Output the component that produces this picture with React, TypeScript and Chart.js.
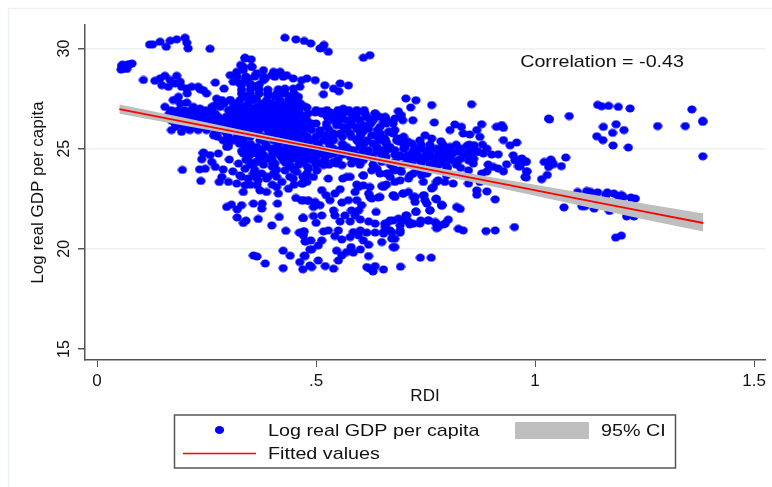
import React, { useEffect, useRef } from "react";
import { Chart, registerables } from "chart.js";

Chart.register(...registerables);

type P = [number, number];
type Row = [number, number[]];

const xTickValues = [0, 0.5, 1, 1.5];
const xTickLabels = ["0", ".5", "1", "1.5"];
const yTickValues = [15, 20, 25, 30];
const yTickLabels = ["15", "20", "25", "30"];

const topLeftPoints: P[] = [[.12,30.2],[.127,30.21],[.144,30.34],[.158,30.09],[.167,30.39],[.182,30.46],[.201,30.54],[.205,30.29],[.208,30.01],[.258,29.99],
[.055,28.95],[.056,29.1],[.06,29.0],[.065,29.1],[.07,29.2],[.075,29.22],[.08,29.25],[.058,29.2],[.068,28.98],[.106,28.43]];

const upperLeftPoints: P[] = [[.132,28.39],[.144,28.51],[.155,28.64],[.167,28.43],[.182,28.64],[.19,28.34],[.148,28.17],[.163,28.09],[.178,28.26],[.193,28.09],[.205,28.0],[.216,28.09],[.231,28.09],[.243,27.92],[.27,28.3],[.29,28.0],[.25,27.76],[.235,27.97],[.206,27.76],[.186,27.59],[.174,27.43],[.155,27.09],[.19,27.26],[.205,27.3],[.22,27.09],[.235,27.0],[.262,27.09],[.285,27.43],[.273,27.5],[.27,27.17],[.304,27.43],[.319,27.26],[.334,27.59],[.17,25.93],[.193,25.84],[.212,25.93],[.231,25.93],[.25,25.93],[.266,25.67]];

const upperLeftRows: Row[] = [[26.92,[.17,.186,.2,.216,.231,.247,.262]],[26.75,[.165,.18,.195,.21,.225,.24,.255,.27]],[26.59,[.17,.186,.2,.216,.231,.247,.262,.277]],[26.4,[.17,.185,.2,.215,.23,.245,.26,.275]],[26.26,[.178,.193,.209,.224,.239,.254,.27,.285]],[26.1,[.18,.2,.215,.23,.245,.26,.28]]];

const upperTopPoints: P[] = [[.338,29.51],[.328,29.18],[.353,29.09],[.304,28.67],[.319,28.84],[.334,28.92],[.311,28.34],[.326,28.26],[.345,28.51],[.361,28.09],[.364,28.76],[.38,28.92],[.38,28.42],[.399,28.67],[.414,28.76],[.433,28.67],[.448,28.51],[.467,28.42],[.479,28.51],[.498,28.42],[.52,28.17],[.517,27.72],[.54,28.0],[.552,27.87],[.555,28.26],[.574,28.16],
[.429,30.54],[.454,30.46],[.473,30.38],[.488,30.26],[.513,30.04],[.518,30.18],[.528,29.84],[.509,30.01],[.608,29.54],[.623,29.67],
[.338,29.54],[.352,29.46],[.353,29.09],[.334,29.09],[.403,28.84],[.418,28.84],[.406,28.59],[.425,28.59],[.384,28.51],[.361,28.09],[.349,28.26],[.338,28.43],[.414,27.97],[.429,28.0],[.448,28.0],[.463,28.09],[.46,27.59],[.441,27.59],[.422,27.76],[.406,27.59],[.391,27.67],[.364,27.51],[.338,27.59],[.349,27.43],[.452,27.21],[.479,27.06],[.433,27.17],[.414,27.26],[.395,27.26],[.38,27.09],[.357,27.01],[.338,27.09]];

const upperTopRows: Row[] = [
[28.6,[.32,.34,.36,.38]],
[28.2,[.33,.35,.37]],
[27.95,[.33,.35,.37,.39]],
[27.75,[.33,.35,.37,.39,.41,.43,.45]]];

const middleBandPoints: P[] = [[.498,26.81],[.513,26.87],[.532,26.81],[.547,26.76],[.562,27.0],[.578,26.81],[.593,26.93],[.612,26.76],[.635,26.76],[.658,26.59],[.559,26.51],[.593,26.51],[.62,26.51],[.654,26.34],[.524,26.26],[.547,26.17],[.578,26.17],[.608,26.17],[.593,26.0],[.62,26.0],[.49,26.26],[.486,26.0],[.509,25.92],[.52,25.67],[.54,25.67],[.555,25.76],[.581,25.59],[.6,25.84],[.627,25.67],[.665,25.84],[.654,25.5],[.597,25.34]];

const centralRows: Row[] = [
[27.42,[.304,.326,.357,.387,.418,.437,.456]],
[27.25,[.29,.32,.345,.375,.4,.42,.445,.465]],
[27.09,[.281,.311,.334,.364,.387,.41,.433,.452,.475]],
[26.93,[.3,.32,.34,.36,.38,.4,.42,.44,.46,.5,.525,.55,.575,.61]],
[26.76,[.311,.33,.349,.368,.387,.406,.425,.444,.463,.482,.513,.536,.562,.593,.635]],
[26.6,[.295,.315,.335,.355,.375,.395,.415,.435,.455,.475,.525,.555,.585,.615,.645]],
[26.43,[.288,.307,.326,.345,.364,.384,.403,.422,.441,.46,.479,.54,.57,.6,.631,.661]],
[26.26,[.295,.315,.335,.355,.375,.39,.41,.43,.45,.465,.5,.55,.58,.625,.66]],
[26.09,[.304,.323,.342,.361,.38,.399,.418,.437,.456,.475,.524,.562,.593,.616,.646]],
[25.93,[.285,.31,.33,.35,.37,.39,.405,.425,.445,.465,.49,.53,.57,.61,.64,.68]],
[25.76,[.269,.296,.334,.364,.395,.414,.433,.452,.471,.509,.54,.578,.604,.646,.676]],
[25.6,[.275,.3,.32,.35,.38,.405,.425,.44,.46,.48,.5,.53,.56,.6,.64,.7]],
[25.42,[.288,.311,.334,.372,.403,.425,.448,.471,.49,.517,.54,.593,.616,.646,.684]],
[25.25,[.3,.325,.35,.385,.415,.44,.46,.48,.505,.53,.56,.61,.63,.66,.7,.72]],
[25.09,[.296,.338,.364,.387,.41,.433,.456,.479,.5,.532,.57,.6,.639,.669]],
[25.0,[.37,.4,.44,.48,.51,.54,.56]],
[24.93,[.35,.375,.4,.42,.445,.465,.49,.515,.555,.58,.62,.65,.68]],
[24.76,[.243,.334,.364,.41,.433,.452,.471,.486,.509,.54,.585]],
[24.7,[.35,.38,.4,.43,.46,.5,.53,.56,.6]],
[24.6,[.345,.38,.42,.44,.46,.48,.5,.52,.6,.625,.66,.69,.735,.76,.785]],
[24.45,[.34,.37,.4,.43,.46,.49,.52,.55,.59]],
[24.3,[.36,.4,.43,.47,.51,.54]],
[24.2,[.35,.38,.44,.46,.5,.53,.6,.63,.67,.7,.72,.76,.78,.82]],
[24.1,[.4,.44,.48]],
[23.95,[.36,.41,.45]],
[23.6,[.33,.36,.39,.41,.44,.47]],
[23.2,[.35,.4,.45]]];

const rightDenseRows: Row[] = [
[25.35,[.66,.69,.71]],
[25.2,[.74,.76,.79,.82,.85,.88]],
[25.0,[.64,.67,.7,.73,.76,.79,.83,.86,.89]],
[24.85,[.73,.76,.78,.81,.83,.85,.87]],
[24.7,[.62,.65,.68,.71,.75,.78,.81,.84]],
[24.5,[.71,.73,.75,.78,.8,.83,.86]],
[24.35,[.68,.71,.74,.77,.79,.82]],
[24.05,[.74,.77,.8,.83]]];

const rightUpperPoints: P[] = [[.705,27.51],[.728,27.42],[.716,27.06],[.764,27.18],[.855,27.22],[.688,26.87],[.695,26.67],[.721,26.42],[.68,26.51],[.698,26.42],[.657,26.56],[.661,26.34],[.676,26.26],[.669,25.84],[.77,26.31],[.817,26.21],[.806,25.93],[.832,26.09],[.836,25.76],[.878,26.22],[.867,25.93],[.851,25.71],[.874,25.59],[.912,26.09],[.924,26.18],[.928,26.04],[.928,25.43],[.958,25.31],[.943,25.17],[.749,25.67],[.764,25.51],[.737,25.42],[.785,25.37],[.688,25.51],[.657,25.51],[.806,25.09],[.844,25.14],[.861,25.18],[.87,24.84],[.882,24.76],[.901,24.71],[.916,24.72],[.95,24.67],[.966,24.47],[.979,24.34],[.954,24.42],[.935,24.22],[.962,24.12],[.981,23.87],[.977,23.59],[.703,25.09],[.722,24.92],[.741,25.0],[.756,24.92],[.775,25.0],[.794,24.92],[.817,24.84],[.836,24.76],[.855,24.76],[.703,24.59],[.722,24.67],[.749,24.59],[.772,24.59],[.794,24.67],[.806,24.42],[.825,24.42],[.848,24.42],[.859,24.26],[.893,24.21],[.905,24.09],[.916,24.01],[.928,23.87],[.89,23.87],[.878,23.76],[.848,23.92],[.779,24.26],[.741,24.38],[.798,24.09]];

const rightLowerPoints: P[] = [[.661,23.76],[.68,23.92],[.695,23.84],[.722,23.76],[.692,23.42],[.711,23.51],[.741,23.67],[.745,23.34],[.68,23.34],[.657,23.17],[.676,22.67],[.699,22.76],[.722,22.59],[.745,22.67],[.775,23.34],[.794,23.34],[.813,23.26],[.764,23.01],[.775,22.47],[.909,22.47],[.867,22.92],[.867,22.7],[.89,22.87],[.848,23.26],[.874,23.34],[.646,22.59],[.749,22.42],[.787,22.2],[.821,22.09],[.829,21.99],[.787,22.16],[.76,21.93],[.728,21.84],[.739,21.42],[.756,21.42],[.772,21.34],[.779,21.09],[.791,21.22],[.802,21.46],[.825,21.0],[.836,20.92],[.888,20.89],[.909,20.92],[.953,21.09],[.707,21.67],[.714,21.22],[.699,21.42],[.676,21.42],[.657,21.26],[.669,20.92],[.692,20.92],[.68,20.5],[.676,20.09],[.654,20.76]];

const farRightPoints: P[] = [[1.143,27.19],[1.152,27.12],[1.168,27.14],[1.19,27.09],[1.217,27.01],[1.358,26.96],[1.383,26.34],[1.383,26.39],[1.28,26.13],[1.343,26.13],[1.031,26.51],[1.033,26.46],[1.078,26.63],[1.156,26.09],[1.185,26.22],[1.177,25.79],[1.203,25.93],[1.141,25.62],[1.155,25.43],[1.178,25.16],[1.213,25.06],[1.383,24.62],[1.07,24.56],[1.036,24.46],[1.021,24.34],[1.042,24.23],[1.031,24.09],[1.06,24.13],[1.038,24.34],[1.028,23.69],[1.015,23.48],[.97,24.51],[.98,24.36],[.981,23.87],[.98,23.56],[.966,24.12],[1.097,22.84],[1.118,22.89],[1.127,22.84],[1.143,22.82],[1.165,22.82],[1.162,22.67],[1.18,22.76],[1.19,22.62],[1.197,22.69],[1.202,22.59],[1.219,22.56],[1.229,22.51],[1.066,22.07],[1.107,22.13],[1.114,22.13],[1.135,22.01],[1.17,21.89],[1.209,21.62],[1.226,21.62],[1.184,20.56],[1.197,20.66]];

const lowerLeftPoints: P[] = [[.195,23.94],[.237,23.39],[.243,24.81],[.239,24.475],[.258,24.68],[.277,24.76],[.302,24.46],[.234,23.97],[.247,24.0],[.262,24.34],[.27,24.09],[.288,23.97],[.31,23.87],[.279,23.34],[.3,23.34],[.285,23.59],[.323,24.26],[.326,23.67],[.319,23.26],[.338,23.18],[.334,22.84],[.365,23.18],[.372,22.92],[.387,22.84],[.414,22.76],[.437,23.0],[.41,23.09],[.47,23.26],[.454,22.54],[.467,22.42],[.482,22.42],[.296,22.09],[.307,22.21],[.33,22.18],[.32,21.97],[.357,22.26],[.377,22.26],[.376,22.01],[.412,22.26],[.32,21.57],[.334,21.29],[.34,21.41],[.368,21.49],[.416,21.59],[.399,21.17],[.431,20.9],[.47,21.54],[.462,20.81],[.473,20.87],[.476,20.37],[.425,19.91],[.357,19.67],[.365,19.62],[.384,19.27],[.441,19.66],[.473,19.66],[.425,19.04],[.47,18.98],[.486,19.97],[.486,19.17],[.3,25.12],[.33,24.88],[.345,25.0],[.368,24.76],[.345,24.43],[.365,24.34],[.387,24.51],[.406,24.26],[.425,24.43],[.448,24.51],[.475,24.43],[.338,24.0],[.357,23.76],[.376,23.76],[.403,23.76],[.429,23.92],[.456,23.84],[.479,23.76],[.345,23.51],[.368,23.42],[.387,23.51],[.422,23.34],[.448,23.51],[.479,23.34]];

const lowerMiddlePoints: P[] = [[.471,22.43],[.483,22.39],[.498,22.34],[.513,22.93],[.523,22.68],[.532,22.43],[.543,22.76],[.555,22.98],[.494,22.09],[.509,22.18],[.54,21.92],[.543,21.67],[.494,21.64],[.513,21.67],[.5,21.3],[.471,21.54],[.559,22.31],[.574,22.43],[.593,22.43],[.604,22.18],[.597,21.92],[.581,21.92],[.566,21.67],[.589,21.67],[.555,21.37],[.578,21.37],[.601,21.47],[.62,21.37],[.635,21.26],[.637,21.84],[.608,23.17],[.593,23.21],[.589,22.84],[.623,23.09],[.62,22.76],[.627,22.51],[.642,22.56],[.561,23.51],[.578,23.59],[.608,23.67],[.627,23.92],[.65,23.14],[.661,23.21],[.677,22.67],[.699,22.76],[.711,22.84],[.726,22.59],[.726,22.34],[.747,22.67],[.753,22.26],[.76,21.92],[.774,22.51],[.787,22.18],[.728,21.87],[.661,21.26],[.669,21.42],[.688,21.51],[.705,21.67],[.711,21.37],[.722,21.26],[.737,21.26],[.757,21.42],[.775,21.26],[.795,21.26],[.775,21.04],[.692,21.17],[.658,21.09],[.654,20.84],[.692,20.81],[.673,20.81],[.673,20.51],[.68,20.09],[.65,20.34],[.471,20.87],[.471,20.67],[.517,20.87],[.528,20.92],[.551,20.92],[.543,20.64],[.559,20.47],[.513,20.42],[.505,20.17],[.49,19.97],[.475,20.37],[.488,20.42],[.585,20.84],[.601,20.92],[.616,20.81],[.635,20.81],[.578,20.59],[.597,20.67],[.608,20.42],[.62,20.21],[.58,20.09],[.57,19.84],[.585,19.81],[.601,19.97],[.62,19.64],[.547,19.91],[.559,19.67],[.551,19.42],[.54,19.01],[.505,19.42],[.49,19.09],[.521,19.14],[.463,19.34],[.475,19.64],[.616,19.09],[.623,19.01],[.635,19.14],[.63,18.87],[.654,18.97],[.693,19.11],[.738,19.56],[.763,19.56]];

const centreLowerPoints: P[] = [[.479,24.51],[.498,24.34],[.517,24.18],[.483,24.01],[.502,23.92],[.528,23.51],[.475,23.51],[.494,23.59],[.467,23.26],[.54,24.34],[.559,24.18],[.581,24.26],[.608,24.43],[.631,24.51],[.65,24.34],[.677,24.01],[.665,23.76],[.692,23.92],[.715,23.67],[.73,23.92],[.753,23.76],[.779,23.42],[.768,23.09],[.798,23.67],[.646,23.76],[.471,24.84],[.494,24.76],[.517,24.76],[.54,24.84],[.562,24.76],[.585,24.92],[.608,24.92],[.639,24.84],[.661,24.92],[.692,24.67],[.715,24.43],[.741,24.34],[.547,24.26],[.578,24.59],[.57,23.59],[.608,23.67],[.639,24.0],[.669,23.59],[.654,23.09],[.623,22.59],[.597,23.09],[.68,22.59]];

const fitX = [.051, .2, .35, .5, .65, .8, .95, 1.1, 1.25, 1.384];
const fitY = [26.975, 26.34, 25.7, 25.06, 24.42, 23.78, 23.14, 22.5, 21.86, 21.29];
const ciUpper = [27.21, 26.54, 25.84, 25.17, 24.55, 23.96, 23.39, 22.82, 22.25, 21.76];
const ciLower = [26.74, 26.14, 25.56, 24.95, 24.29, 23.6, 22.89, 22.18, 21.47, 20.86];

const correlationText = "Correlation = -0.43";
const scatterLabel = "Log real GDP per capita";
const fitLabel = "Fitted values";
const ciLabel = "95% CI";
const FONT = '"Liberation Sans", Arial, sans-serif';
const AXIS = "#555555";
const GRID = "#eaf2f3";
const BLUE = "#0000ff";
const RED = "#ff0000";
const BAND = "#bebebe";

const rowsToPairs = (rows: Row[]): P[] =>
  rows.flatMap(([y, xs]) => xs.map((x) => [x, y] as P));

const allPoints: P[] = [
  ...topLeftPoints, ...upperLeftPoints, ...rowsToPairs(upperLeftRows), ...upperTopPoints, ...rowsToPairs(upperTopRows),
  ...middleBandPoints, ...rowsToPairs(centralRows), ...rowsToPairs(rightDenseRows), ...rightUpperPoints, ...rightLowerPoints,
  ...farRightPoints, ...lowerLeftPoints, ...lowerMiddlePoints, ...centreLowerPoints,
];

function makeMarker(): HTMLCanvasElement {
  const c = document.createElement("canvas");
  c.width = 10;
  c.height = 9;
  const g = c.getContext("2d")!;
  g.fillStyle = BLUE;
  g.beginPath();
  g.ellipse(5, 4.5, 4.6, 4, 0, 0, Math.PI * 2);
  g.fill();
  return c;
}

function wideText(ctx: CanvasRenderingContext2D, text: string, x: number, y: number) {
  ctx.save();
  ctx.translate(x, y);
  ctx.scale(1.16, 1);
  ctx.fillText(text, 0, 0);
  ctx.restore();
}

const decorations = {
  id: "decorations",
  beforeDraw(chart: any) {
    const { ctx } = chart;
    ctx.save();
    ctx.strokeStyle = GRID;
    ctx.lineWidth = 1.5;
    ctx.beginPath();
    ctx.moveTo(8.5, 487);
    ctx.lineTo(8.5, 8.5);
    ctx.lineTo(772, 8.5);
    ctx.stroke();
    ctx.restore();
  },
  afterDraw(chart: any) {
    const { ctx, scales } = chart;
    ctx.save();
    ctx.fillStyle = "#111111";
    ctx.font = `17px ${FONT}`;
    ctx.textBaseline = "middle";
    ctx.textAlign = "left";
    wideText(ctx, correlationText, scales.x.getPixelForValue(0.966), scales.y.getPixelForValue(29.3));

    ctx.strokeStyle = AXIS;
    ctx.lineWidth = 1.5;
    ctx.strokeRect(174.5, 415, 501, 53);

    ctx.fillStyle = BLUE;
    ctx.beginPath();
    ctx.ellipse(219.5, 430, 4.6, 4, 0, 0, Math.PI * 2);
    ctx.fill();
    ctx.strokeStyle = RED;
    ctx.lineWidth = 1.5;
    ctx.beginPath();
    ctx.moveTo(183, 453.5);
    ctx.lineTo(256, 453.5);
    ctx.stroke();
    ctx.fillStyle = BAND;
    ctx.fillRect(515, 422, 74, 17);

    ctx.fillStyle = "#111111";
    wideText(ctx, scatterLabel, 268, 431.5);
    wideText(ctx, fitLabel, 268, 454);
    wideText(ctx, ciLabel, 601, 431.5);
    ctx.restore();
  },
};

export default function App() {
  const ref = useRef<HTMLCanvasElement>(null);
  useEffect(() => {
    const chart = new Chart(ref.current!, {
      type: "scatter",
      data: {
        datasets: [
          {
            label: scatterLabel,
            data: allPoints.map(([x, y]) => ({ x, y })),
            backgroundColor: BLUE,
            borderWidth: 0,
            pointStyle: makeMarker(),
            pointRadius: 4,
            order: 3,
          },
          {
            label: "CI upper",
            data: fitX.map((x, i) => ({ x, y: ciUpper[i] })),
            showLine: true,
            pointRadius: 0,
            borderWidth: 0,
            borderColor: BAND,
            order: 2,
          },
          {
            label: ciLabel,
            data: fitX.map((x, i) => ({ x, y: ciLower[i] })),
            showLine: true,
            pointRadius: 0,
            borderWidth: 0,
            borderColor: BAND,
            backgroundColor: BAND,
            fill: "-1",
            order: 2,
          },
          {
            label: fitLabel,
            data: fitX.map((x, i) => ({ x, y: fitY[i] })),
            showLine: true,
            pointRadius: 0,
            borderColor: RED,
            borderWidth: 1.8,
            order: 1,
          },
        ],
      } as any,
      options: {
        animation: false,
        responsive: false,
        layout: { padding: { left: 0, right: 7, top: 25, bottom: 0 } },
        plugins: { legend: { display: false }, tooltip: { enabled: false } },
        scales: {
          x: {
            type: "linear",
            min: -0.0274,
            max: 1.525,
            afterBuildTicks: (s: any) => { s.ticks = xTickValues.map((value) => ({ value })); },
            afterFit: (s: any) => { s.height = 127; },
            border: { color: AXIS, width: 1.5 },
            grid: { drawOnChartArea: false, tickColor: AXIS, tickLength: 7 },
            ticks: {
              autoSkip: false,
              maxRotation: 0,
              padding: 4,
              color: "#111111",
              font: { family: FONT, size: 17 },
              callback: (v: any) => xTickLabels[xTickValues.indexOf(Number(v))],
            },
            title: {
              display: true,
              text: "RDI",
              color: "#111111",
              font: { family: FONT, size: 17 },
              padding: { top: 0, bottom: 80 },
            },
          },
          y: {
            type: "linear",
            min: 14.45,
            max: 31.175,
            afterBuildTicks: (s: any) => { s.ticks = yTickValues.map((value) => ({ value })); },
            afterFit: (s: any) => { s.width = 85; },
            border: { color: AXIS, width: 1.5 },
            grid: {
              color: (c: any) => (c.tick && c.tick.value === 15 ? "rgba(0,0,0,0)" : GRID),
              lineWidth: 1.5,
              tickColor: AXIS,
              tickLength: 7,
            },
            ticks: {
              autoSkip: false,
              minRotation: 90,
              maxRotation: 90,
              crossAlign: "center",
              padding: 5,
              color: "#111111",
              font: { family: FONT, size: 16 },
              callback: (v: any) => yTickLabels[yTickValues.indexOf(Number(v))],
            },
            title: {
              display: true,
              text: scatterLabel,
              color: "#111111",
              font: { family: FONT, size: 17 },
              padding: { top: 28, bottom: 0 },
            },
          },
        },
      } as any,
      plugins: [decorations],
    });
    return () => chart.destroy();
  }, []);
  return (
    <div style={{ position: "absolute", left: 0, top: 0, width: 772, height: 487, background: "#fff" }}>
      <canvas ref={ref} width={772} height={487} style={{ display: "block" }} />
    </div>
  );
}
